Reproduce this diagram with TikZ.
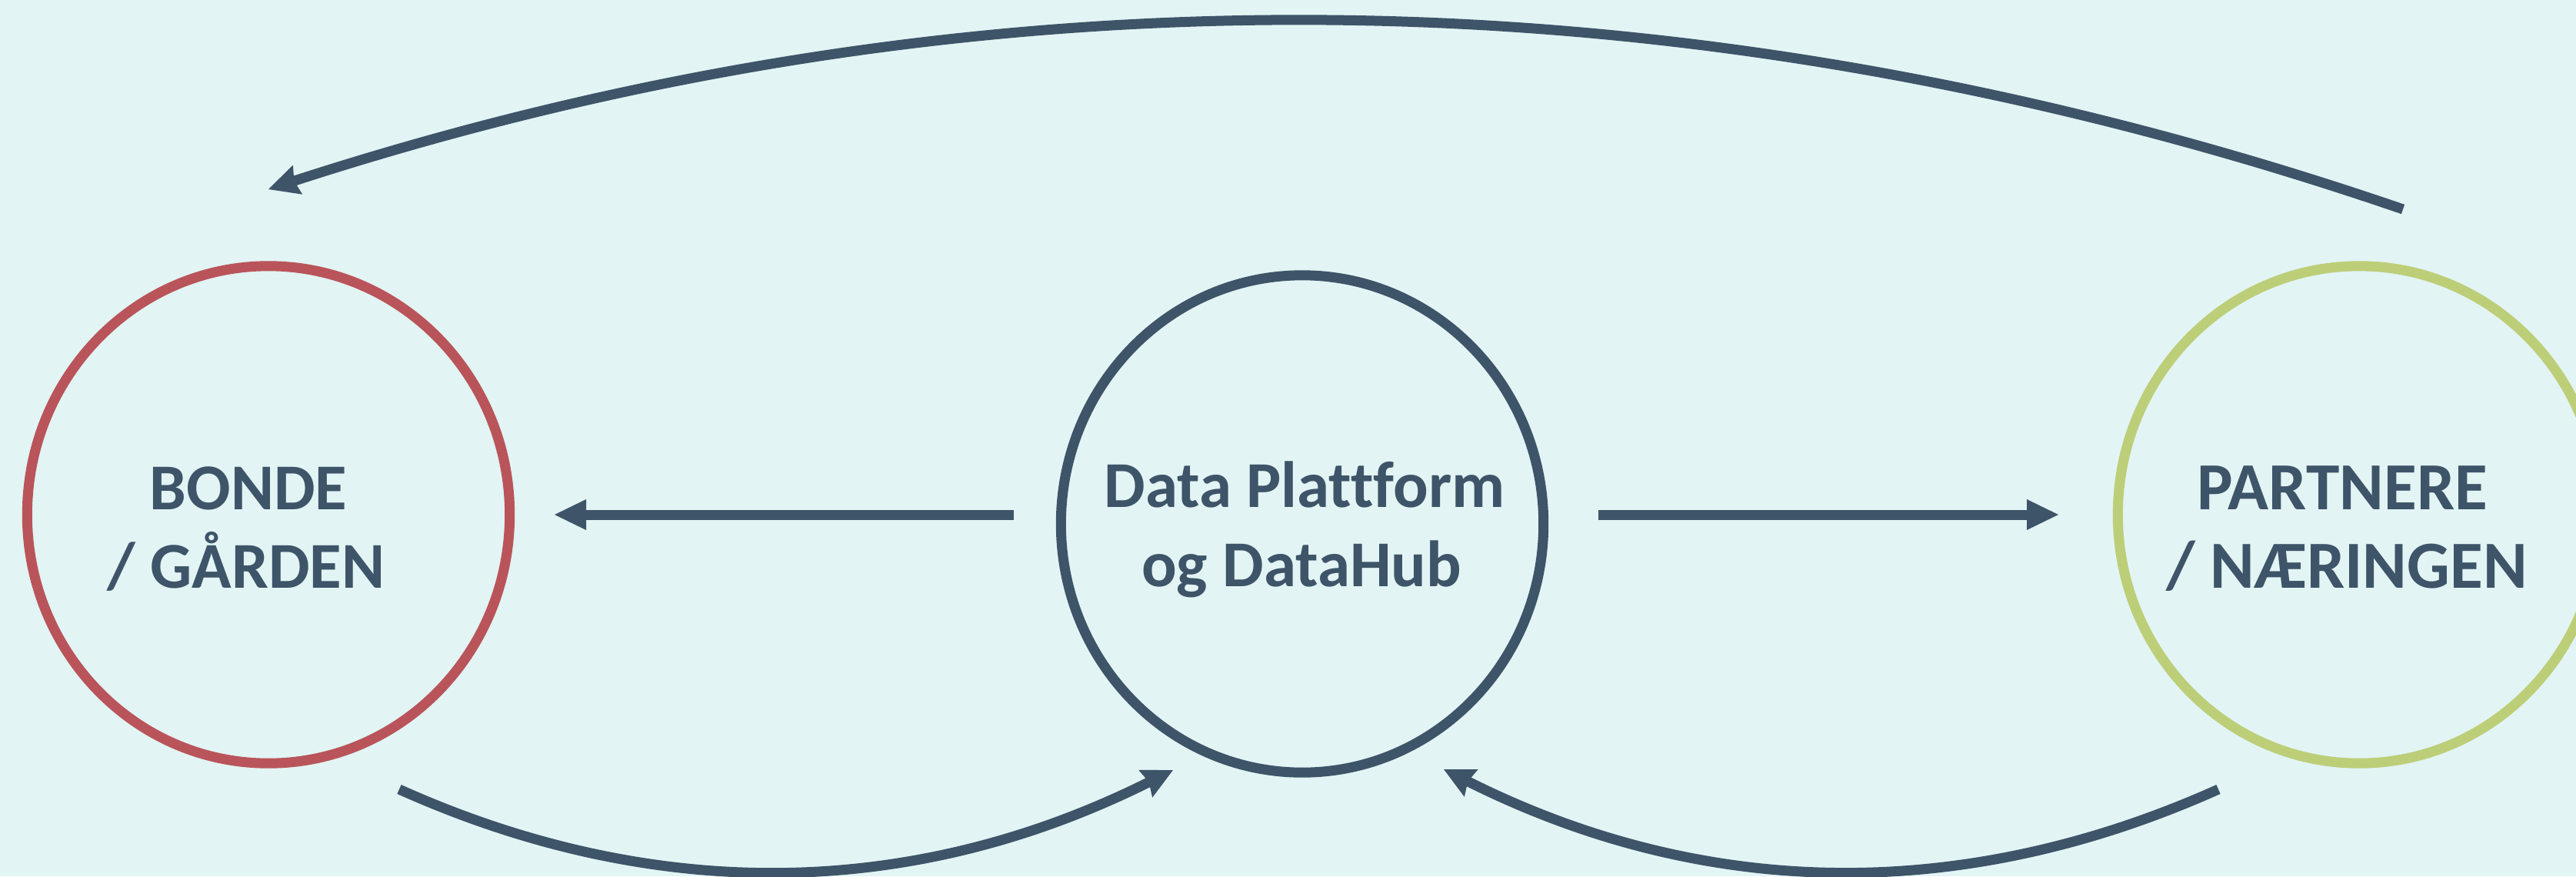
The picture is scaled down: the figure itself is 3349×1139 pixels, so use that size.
\documentclass[tikz,border=0pt]{standalone}
\usepackage{fontspec}
\setmainfont{Carlito}[Ligatures=NoCommon]
\usetikzlibrary{arrows.meta,shapes.geometric,calc}
\definecolor{bgc}{HTML}{E2F4F4}
\definecolor{ink}{HTML}{3E5468}
\definecolor{redc}{HTML}{B9555A}
\definecolor{greenc}{HTML}{BDCE78}
\begin{document}
\begin{tikzpicture}[x=0.01cm,y=-0.01cm,
  ring/.style={ellipse, draw, line width=0.13cm, minimum width=6.27cm, minimum height=6.46cm, inner sep=0pt},
  lbl/.style={anchor=base, text=ink, font=\fontsize{24.2pt}{29pt}\selectfont\bfseries, inner sep=0pt},
  lblr/.style={lbl, font=\fontsize{24.9pt}{29pt}\selectfont\bfseries},
  conn/.style={draw=ink, line width=0.13cm},
  tri/.style={-{Triangle[length=0.41cm,width=0.40cm,line width=0pt]}},
  stl/.style={-{Stealth[length=0.40cm,width=0.40cm,inset=0.05cm,line width=0pt]}}]
\useasboundingbox (0,0) rectangle (3349,1139);
\clip (0,0) rectangle (3349,1139);
\fill[bgc] (0,0) rectangle (3349,1139);
% circles
\node[ring, draw=redc] (bonde) at (349,669) {};
\node[ring, draw=ink] (plat) at (1693,681) {};
\node[ring, draw=greenc] (partner) at (3067,669) {};
% labels
\node[lbl] (bondeA) at (323,662) {BONDE};
\node[lbl] (bondeB) at (320,764) {/ GÅRDEN};
\node[lbl] (platA) at (1696,659) {Data Plattform};
\node[lbl] (platB) at (1692,762) {og DataHub};
\node[lblr] (partnerA) at (3045,662) {PARTNERE};
\node[lblr] (partnerB) at (3051,764) {/ NÆRINGEN};
% connector ends
\coordinate (pl) at ($(plat.center)+(-375,-12)$);
\coordinate (bl) at ($(bonde.center)+(372,0)$);
\coordinate (pr) at ($(plat.center)+(385,-12)$);
\coordinate (nr) at ($(partner.center)+(-391,0)$);
\coordinate (bs) at ($(bonde.center)+(170,357)$);
\coordinate (pe1) at ($(plat.center)+(-168,320)$);
\coordinate (ns) at ($(partner.center)+(-183,357)$);
\coordinate (pe2) at ($(plat.center)+(184,319)$);
\coordinate (ts) at ($(partner.center)+(57,-397)$);
\coordinate (te) at ($(bonde.center)+(0,-423)$);
% connectors
\draw[conn, tri] (pl) -- (bl);
\draw[conn, tri] (pr) -- (nr);
\draw[conn, stl] (bs) .. controls (854.3,1176.5) and (1189.7,1168.2) .. (pe1);
\draw[conn, stl] (ns) .. controls (2548.2,1176.5) and (2212.8,1168.2) .. (pe2);
\draw[conn, stl] (ts) .. controls (2198.7,-45.3) and (1273.7,-54) .. (te);
\end{tikzpicture}
\end{document}
